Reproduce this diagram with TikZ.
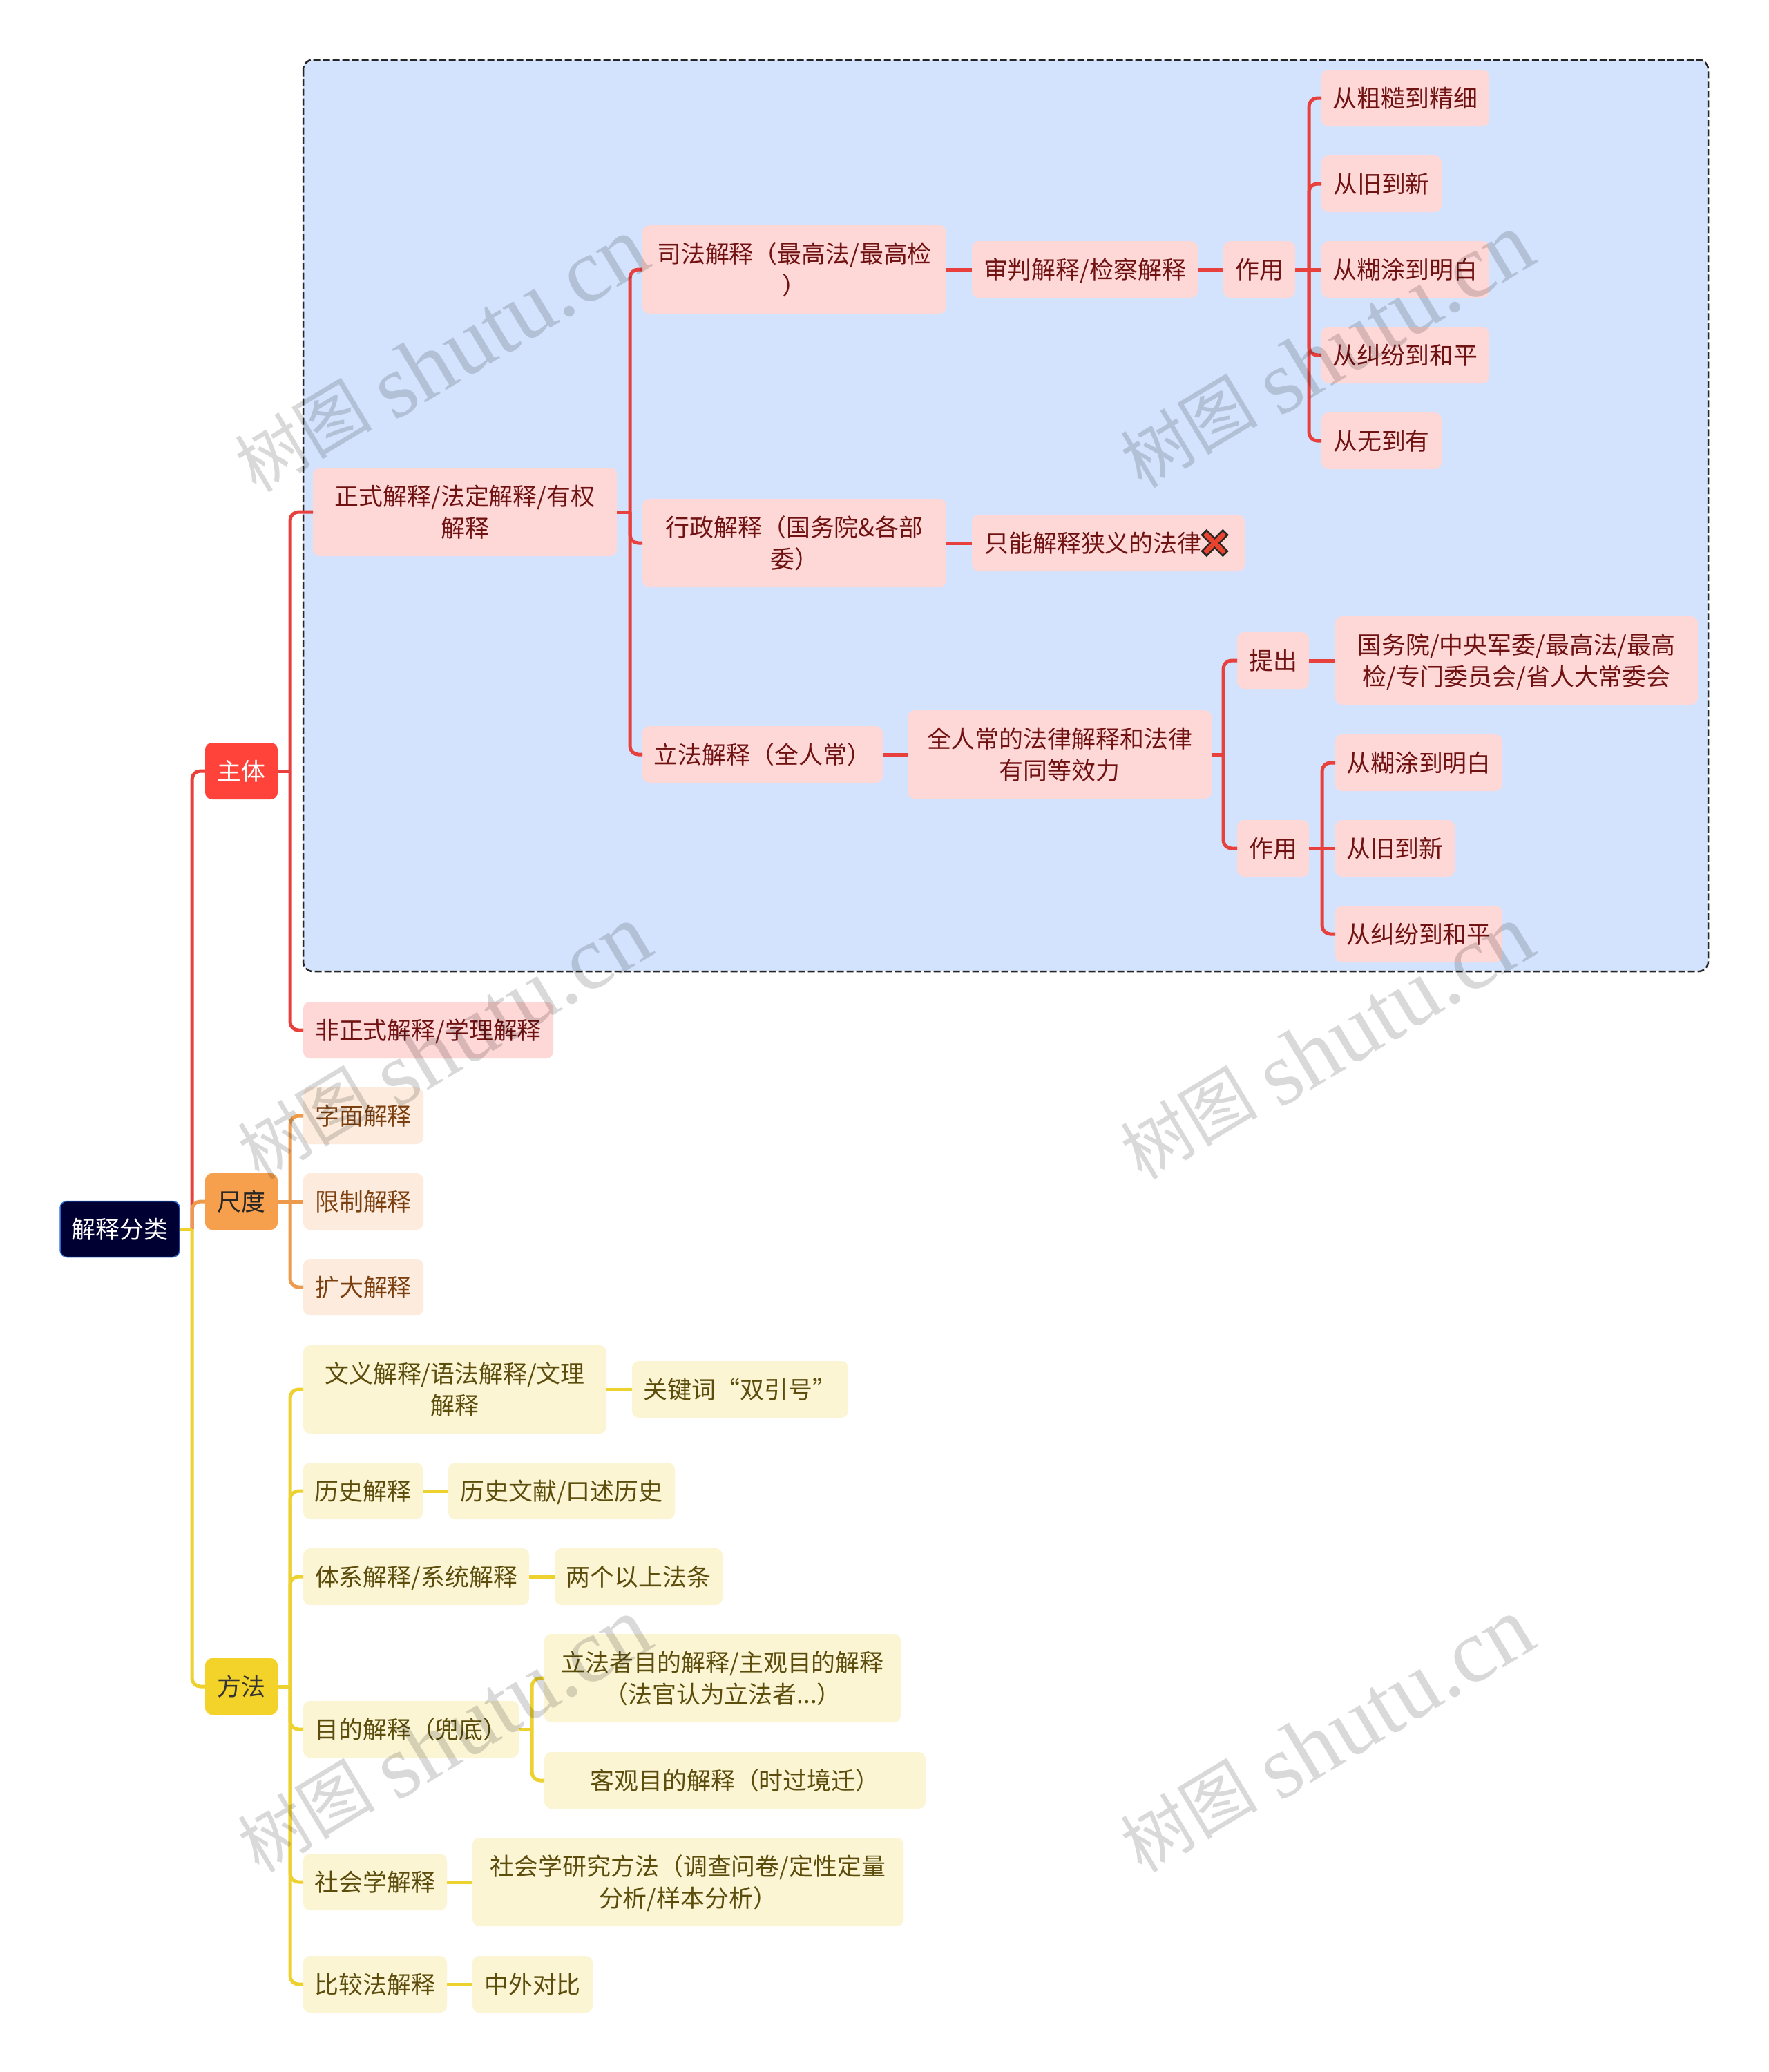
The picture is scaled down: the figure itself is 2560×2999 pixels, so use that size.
\documentclass[tikz,border=0pt]{standalone}
\usepackage{fontspec}
\setmainfont{Noto Sans CJK SC}
\newfontfamily\wmcjk{Noto Sans CJK SC}
\newfontfamily\wmlat{Liberation Serif}
\usetikzlibrary{calc}
\definecolor{redline}{HTML}{E8403C}
\definecolor{redbox}{HTML}{FED7D7}
\definecolor{redtext}{HTML}{701212}
\definecolor{redmain}{HTML}{FF433B}
\definecolor{orgline}{HTML}{ED9A4C}
\definecolor{orgbox}{HTML}{FDECDD}
\definecolor{orgtext}{HTML}{7B3F10}
\definecolor{orgmain}{HTML}{F6A04D}
\definecolor{yelline}{HTML}{EDD12F}
\definecolor{yelbox}{HTML}{FBF5D4}
\definecolor{yeltext}{HTML}{5C4D0C}
\definecolor{yelmain}{HTML}{F3D22A}
\definecolor{rootfill}{HTML}{000033}
\definecolor{rootedge}{HTML}{2B6CD0}
\definecolor{framefill}{HTML}{D3E3FD}
\definecolor{crossred}{HTML}{E8432E}
\newcommand{\st}{\rule[-9.7pt]{0pt}{46pt}}
\newcommand{\nd}[7]{\node[#2,minimum width={(#4-#3)*1pt},minimum height={#6*1pt}] (#1) at ({(#3+#4)/2},#5) {#7};}
\tikzset{
  x=1pt,y=-1pt,
  base/.style={rectangle,rounded corners=10pt,inner sep=0pt,outer sep=0pt,align=center,font=\fontsize{34.9}{46}\selectfont},
  redb/.style={base,fill=redbox,text=redtext},
  orgb/.style={base,fill=orgbox,text=orgtext},
  yelb/.style={base,fill=yelbox,text=yeltext},
  rootb/.style={base,fill=rootfill,draw=rootedge,line width=1.5pt,text=white},
  mainred/.style={base,fill=redmain,text=white},
  mainorg/.style={base,fill=orgmain,text=black!85},
  mainyel/.style={base,fill=yelmain,text=black!80},
  linkred/.style={draw=redline,line width=5pt,rounded corners=12pt},
  linkorg/.style={draw=orgline,line width=5pt,rounded corners=12pt},
  linkyel/.style={draw=yelline,line width=5pt,rounded corners=12pt},
  wmark/.style={inner sep=0pt,rotate=31,text=black,text opacity=0.15},
}
\newcommand{\wmtext}{\raisebox{14pt}[0pt][0pt]{\wmcjk\fontsize{100}{100}\selectfont 树图}\hspace{24pt}{\wmlat\fontsize{131}{131}\selectfont shutu.cn}}
\begin{document}
\begin{tikzpicture}
\useasboundingbox (0,0) rectangle (2560,2999);
\fill[white] (0,0) rectangle (2560,2999);
% summary frame
\draw[fill=framefill,draw=black!85,line width=2.5pt,dash pattern=on 10pt off 4pt,rounded corners=14pt] (439,86.5) rectangle (2473,1406);
% bus coordinates
\coordinate (bT) at (278,0);
\coordinate (bA) at (420,0);
\coordinate (bB) at (912,0);
\coordinate (bC) at (1895,0);
\coordinate (bD) at (1771,0);
\coordinate (bE) at (1914,0);
\coordinate (bH) at (770,0);
% nodes
\nd{root}{rootb}{87}{260}{1779}{81}{\st 解释分类}
\nd{zhuti}{mainred}{297}{402}{1116}{82}{\st 主体}
\nd{chidu}{mainorg}{297}{402}{1739}{82}{\st 尺度}
\nd{fangfa}{mainyel}{297}{402}{2441}{82}{\st 方法}
\nd{zhengshi}{redb}{453}{893}{741}{128}{\st 正式解释/法定解释/有权\\\st 解释}
\nd{feizheng}{redb}{439}{801}{1491}{82}{\st 非正式解释/学理解释}
\nd{sifa}{redb}{930}{1370}{390}{128}{\st 司法解释（最高法/最高检\\\st ）}
\nd{xingzheng}{redb}{930}{1370}{786}{128}{\st 行政解释（国务院\&各部\\\st 委）}
\nd{lifa}{redb}{930}{1278}{1092}{82}{\st 立法解释（全人常）}
\nd{shenpan}{redb}{1407}{1734}{390}{82}{\st 审判解释/检察解释}
\nd{zuoyong}{redb}{1771}{1875}{390}{82}{\st 作用}
\nd{cu}{redb}{1913}{2156}{142}{82}{\st 从粗糙到精细}
\nd{jiu}{redb}{1913}{2087}{266}{82}{\st 从旧到新}
\nd{hu}{redb}{1913}{2156}{390}{82}{\st 从糊涂到明白}
\nd{jiufen}{redb}{1913}{2156}{514}{82}{\st 从纠纷到和平}
\nd{wu}{redb}{1913}{2087}{638}{82}{\st 从无到有}
\nd{zhineng}{redb}{1407}{1802}{786}{82}{\st 只能解释狭义的法律\hspace{44pt}}
\nd{quanren}{redb}{1314}{1754}{1092}{128}{\st 全人常的法律解释和法律\\\st 有同等效力}
\nd{tichu}{redb}{1791}{1895}{956}{82}{\st 提出}
\nd{guowu}{redb}{1933}{2458}{956}{128}{\st 国务院/中央军委/最高法/最高\\\st 检/专门委员会/省人大常委会}
\nd{zuoyongb}{redb}{1791}{1895}{1228}{82}{\st 作用}
\nd{hub}{redb}{1933}{2175}{1104}{82}{\st 从糊涂到明白}
\nd{jiub}{redb}{1933}{2106}{1228}{82}{\st 从旧到新}
\nd{jiufenb}{redb}{1933}{2175}{1352}{82}{\st 从纠纷到和平}
\nd{zimian}{orgb}{439}{613}{1615}{82}{\st 字面解释}
\nd{xianzhi}{orgb}{439}{613}{1739}{82}{\st 限制解释}
\nd{kuoda}{orgb}{439}{613}{1863}{82}{\st 扩大解释}
\nd{wenyi}{yelb}{439}{878}{2011}{128}{\st 文义解释/语法解释/文理\\\st 解释}
\nd{guanjian}{yelb}{915}{1228}{2011}{82}{\st 关键词“双引号”}
\nd{lishi}{yelb}{439}{612}{2158}{82}{\st 历史解释}
\nd{wenxian}{yelb}{649}{977}{2158}{82}{\st 历史文献/口述历史}
\nd{tixi}{yelb}{439}{766}{2282}{82}{\st 体系解释/系统解释}
\nd{liangge}{yelb}{803}{1046}{2282}{82}{\st 两个以上法条}
\nd{mudi}{yelb}{439}{751}{2503}{82}{\st 目的解释（兜底）}
\nd{lifazhe}{yelb}{788}{1304}{2429}{128}{\st 立法者目的解释/主观目的解释\\\st （法官认为立法者...）}
\nd{keguan}{yelb}{788}{1340}{2577}{82}{\st 客观目的解释（时过境迁）}
\nd{shehui}{yelb}{439}{647}{2724}{82}{\st 社会学解释}
\nd{yanjiu}{yelb}{684}{1308}{2724}{128}{\st 社会学研究方法（调查问卷/定性定量\\\st 分析/样本分析）}
\nd{bijiao}{yelb}{439}{647}{2872}{82}{\st 比较法解释}
\nd{zhongwai}{yelb}{684}{858}{2872}{82}{\st 中外对比}
% cross icon
\draw[black!85,line width=12pt] ($(zhineng.center)+(138,-16)$) -- ($(zhineng.center)+(170,16)$) ($(zhineng.center)+(170,-16)$) -- ($(zhineng.center)+(138,16)$);
\draw[crossred,line width=7pt] ($(zhineng.center)+(140,-14)$) -- ($(zhineng.center)+(168,14)$) ($(zhineng.center)+(168,-14)$) -- ($(zhineng.center)+(140,14)$);
% connectors: red branch
\path[linkred] (bT |- root.east) -- (bT |- zhuti.west) -- (zhuti.west);
\path[linkred] (zhuti.east) -- (bA |- zhuti.east);
\path[linkred] (bA |- zhuti.east) -- (bA |- zhengshi.west) -- (zhengshi.west);
\path[linkred] (bA |- zhuti.east) -- (bA |- feizheng.west) -- (feizheng.west);
\path[linkred] (zhengshi.east) -- (bB |- zhengshi.east);
\path[linkred] (bB |- zhengshi.east) -- (bB |- sifa.west) -- (sifa.west);
\path[linkred] (bB |- zhengshi.east) -- (bB |- xingzheng.west) -- (xingzheng.west);
\path[linkred] (bB |- zhengshi.east) -- (bB |- lifa.west) -- (lifa.west);
\path[linkred] (sifa.east) -- (shenpan.west);
\path[linkred] (shenpan.east) -- (zuoyong.west);
\path[linkred] (zuoyong.east) -- (hu.west);
\path[linkred] (bC |- zuoyong.east) -- (bC |- cu.west) -- (cu.west);
\path[linkred] (bC |- zuoyong.east) -- (bC |- jiu.west) -- (jiu.west);
\path[linkred] (bC |- zuoyong.east) -- (bC |- jiufen.west) -- (jiufen.west);
\path[linkred] (bC |- zuoyong.east) -- (bC |- wu.west) -- (wu.west);
\path[linkred] (xingzheng.east) -- (zhineng.west);
\path[linkred] (lifa.east) -- (quanren.west);
\path[linkred] (quanren.east) -- (bD |- quanren.east);
\path[linkred] (bD |- quanren.east) -- (bD |- tichu.west) -- (tichu.west);
\path[linkred] (bD |- quanren.east) -- (bD |- zuoyongb.west) -- (zuoyongb.west);
\path[linkred] (tichu.east) -- (guowu.west);
\path[linkred] (zuoyongb.east) -- (jiub.west);
\path[linkred] (bE |- zuoyongb.east) -- (bE |- hub.west) -- (hub.west);
\path[linkred] (bE |- zuoyongb.east) -- (bE |- jiufenb.west) -- (jiufenb.west);
% orange branch
\path[linkorg] (bT |- root.east) -- (bT |- chidu.west) -- (chidu.west);
\path[linkorg] (chidu.east) -- (xianzhi.west);
\path[linkorg] (bA |- chidu.east) -- (bA |- zimian.west) -- (zimian.west);
\path[linkorg] (bA |- chidu.east) -- (bA |- kuoda.west) -- (kuoda.west);
% yellow branch
\path[linkyel] (bT |- root.east) -- (bT |- fangfa.west) -- (fangfa.west);
\path[linkyel] (root.east) -- (bT |- root.east);
\path[linkyel] (fangfa.east) -- (bA |- fangfa.east);
\path[linkyel] (bA |- fangfa.east) -- (bA |- wenyi.west) -- (wenyi.west);
\path[linkyel] (bA |- fangfa.east) -- (bA |- lishi.west) -- (lishi.west);
\path[linkyel] (bA |- fangfa.east) -- (bA |- tixi.west) -- (tixi.west);
\path[linkyel] (bA |- fangfa.east) -- (bA |- mudi.west) -- (mudi.west);
\path[linkyel] (bA |- fangfa.east) -- (bA |- shehui.west) -- (shehui.west);
\path[linkyel] (bA |- fangfa.east) -- (bA |- bijiao.west) -- (bijiao.west);
\path[linkyel] (wenyi.east) -- (guanjian.west);
\path[linkyel] (lishi.east) -- (wenxian.west);
\path[linkyel] (tixi.east) -- (liangge.west);
\path[linkyel] (mudi.east) -- (bH |- mudi.east);
\path[linkyel] (bH |- mudi.east) -- (bH |- lifazhe.west) -- (lifazhe.west);
\path[linkyel] (bH |- mudi.east) -- (bH |- keguan.west) -- (keguan.west);
\path[linkyel] (shehui.east) -- (yanjiu.west);
\path[linkyel] (bijiao.east) -- (zhongwai.west);
% watermarks
\node[wmark] (wa) at (640,517) {\wmtext};
\node[wmark] (wb) at (1922,511) {\wmtext};
\node[wmark] (wc) at (644,1512) {\wmtext};
\node[wmark] (wd) at (1922,1512) {\wmtext};
\node[wmark] (we) at (644,2515) {\wmtext};
\node[wmark] (wf) at (1922,2515) {\wmtext};
\end{tikzpicture}
\end{document}
